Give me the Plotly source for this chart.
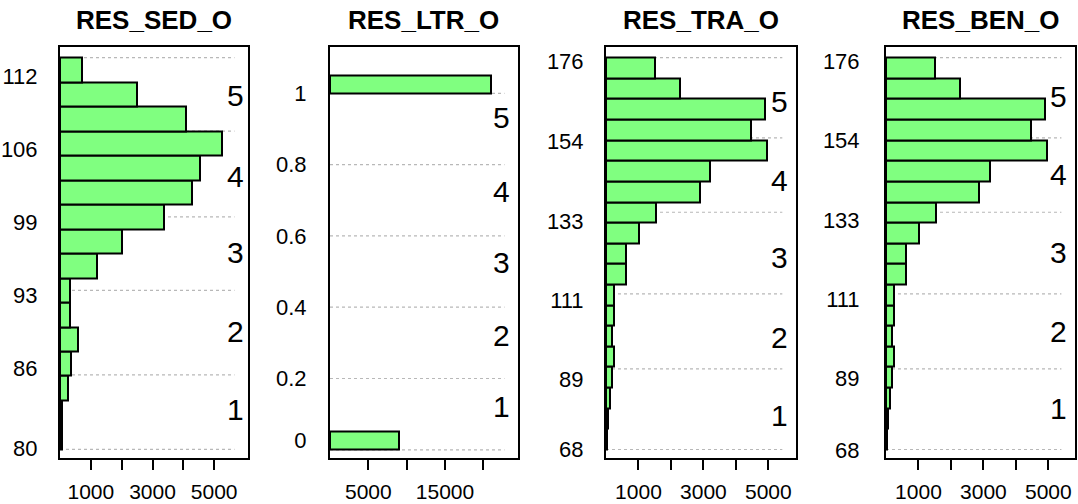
import plotly.graph_objects as go

# ---------------- data ----------------
titles = ["RES_SED_O", "RES_LTR_O", "RES_TRA_O", "RES_BEN_O"]

# histogram bin lower edges (bottom to top) and counts
sed_edges = [80, 82, 84, 86, 88, 90, 92, 94, 96, 98, 100, 102, 104, 106, 108, 110, 112]
sed_counts = [50, 60, 260, 370, 580, 310, 310, 1210, 2010, 3370, 4280, 4540, 5260, 4090, 2510, 700]

ltr_bins = [0.0, 1.0]
ltr_width = 0.05
ltr_counts = [8950, 21050]

tra_edges = [68.0, 73.68, 79.37, 85.05, 90.74, 96.42, 102.11, 107.79, 113.47, 119.16,
             124.84, 130.53, 136.21, 141.89, 147.58, 153.26, 158.95, 164.63, 170.32, 176.0]
tra_counts = [40, 60, 120, 170, 250, 170, 250, 250, 610, 610, 1020, 1530, 2880, 3190,
              4960, 4470, 4910, 2270, 1510]

ben_edges = tra_edges
ben_counts = [40, 60, 120, 170, 250, 170, 250, 250, 610, 610, 1020, 1530, 2880, 3190,
              4960, 4470, 4910, 2270, 1510]

# class breaks (dotted lines)
sed_breaks = [80, 86.1, 93.0, 99.0, 106.0, 112]
ltr_breaks = [0, 0.2, 0.4, 0.6, 0.8, 1.0]
tra_breaks = [68, 90.2, 110.9, 133.4, 153.9, 176]
ben_breaks = [68, 90.2, 110.9, 133.4, 153.9, 176]

# y tick labels
sed_ytext = ["80", "86", "93", "99", "106", "112"]
sed_yvals = [80.06, 86.66, 92.59, 98.58, 104.5, 110.51]
ltr_ytext = ["0", "0.2", "0.4", "0.6", "0.8", "1"]
ltr_yvals = [0.028, 0.2, 0.4, 0.6, 0.8, 1.0]
tra_ytext = ["68", "89", "111", "133", "154", "176"]
tra_yvals = [67.95, 87.3, 109.16, 131.0, 153.0, 175.07]
ben_ytext = ["68", "89", "111", "133", "154", "176"]
ben_yvals = [67.7, 87.5, 109.3, 131.2, 153.1, 175.0]

# class labels 1..5
class_text = ["1", "2", "3", "4", "5"]
sed_class_y = [83.29, 89.62, 96.09, 102.30, 108.87]
ltr_class_y = [0.122, 0.322, 0.526, 0.726, 0.931]
tra_class_y = [77.28, 98.9, 120.87, 142.24, 163.93]
ben_class_y = [79.33, 100.48, 122.18, 143.68, 165.30]

# x ticks
sed_xticks = [1000, 2000, 3000, 4000, 5000]
sed_xtext = ["1000", "", "3000", "", "5000"]
ltr_xticks = [5000, 10000, 15000, 20000]
ltr_xtext = ["5000", "", "15000", ""]
tra_xticks = sed_xticks
tra_xtext = sed_xtext

# ---------------- layout geometry ----------------
W, H = 1078, 504
boxes = [(60, 248), (330, 518), (606, 796), (886, 1075)]
TOP, BOT = 47, 463
xranges = [[0, 6097], [0, 24520], [0, 5852], [0, 5822]]
yranges = [[79.27, 112.91], [-0.0242, 1.1314], [65.54, 179.08], [65.54, 179.08]]
ystandoff = [16, 17, 16, 20]
class_xfrac = [0.931, 0.913, 0.913, 0.915]

def centers(edges):
    return [(edges[i] + edges[i + 1]) / 2 for i in range(len(edges) - 1)]

def widths(edges):
    return [edges[i + 1] - edges[i] for i in range(len(edges) - 1)]

panels = [
    dict(y=centers(sed_edges), w=widths(sed_edges), x=sed_counts, br=sed_breaks,
         yt=sed_ytext, yv=sed_yvals, cy=sed_class_y, xt=sed_xticks, xtt=sed_xtext),
    dict(y=[b + ltr_width / 2 for b in ltr_bins], w=[ltr_width] * len(ltr_bins), x=ltr_counts,
         br=ltr_breaks, yt=ltr_ytext, yv=ltr_yvals, cy=ltr_class_y, xt=ltr_xticks, xtt=ltr_xtext),
    dict(y=centers(tra_edges), w=widths(tra_edges), x=tra_counts, br=tra_breaks,
         yt=tra_ytext, yv=tra_yvals, cy=tra_class_y, xt=tra_xticks, xtt=tra_xtext),
    dict(y=centers(ben_edges), w=widths(ben_edges), x=ben_counts, br=ben_breaks,
         yt=ben_ytext, yv=ben_yvals, cy=ben_class_y, xt=tra_xticks, xtt=tra_xtext),
]

FONT = "Liberation Sans, Arial, Helvetica, sans-serif"
fig = go.Figure()
shapes, annotations = [], []
layout_axes = {}

for i, p in enumerate(panels):
    n = "" if i == 0 else str(i + 1)
    xa, ya = "x" + n, "y" + n
    fig.add_trace(go.Bar(
        x=p["x"], y=p["y"], width=p["w"], orientation="h",
        marker=dict(color="#80FF80", line=dict(color="black", width=2)),
        xaxis=xa, yaxis=ya, showlegend=False, hoverinfo="x+y",
    ))
    x0, x1 = boxes[i]
    layout_axes["xaxis" + n] = dict(
        domain=[x0 / W, x1 / W], range=xranges[i], anchor=ya,
        showgrid=False, zeroline=False, showline=True, mirror=True,
        linecolor="black", linewidth=2,
        ticks="outside", ticklen=10, tickwidth=2, tickcolor="black",
        tickvals=p["xt"], ticktext=p["xtt"],
        tickfont=dict(size=21, color="black", family=FONT),
        ticklabelstandoff=3,
    )
    layout_axes["yaxis" + n] = dict(
        domain=[1 - BOT / H, 1 - TOP / H], range=yranges[i], anchor=xa,
        showgrid=False, zeroline=False, showline=True, mirror=True,
        linecolor="black", linewidth=2, ticks="",
        tickvals=p["yv"], ticktext=p["yt"],
        tickfont=dict(size=22, color="black", family=FONT),
        ticklabelstandoff=ystandoff[i],
    )
    for b in p["br"]:
        shapes.append(dict(type="line", xref=xa + " domain", yref=ya,
                           x0=0, x1=0.928, y0=b, y1=b, layer="below",
                           line=dict(color="#B8B8B8", width=1.2, dash="dot")))
    for t, cy in zip(class_text, p["cy"]):
        annotations.append(dict(text=t, xref=xa + " domain", yref=ya,
                                x=class_xfrac[i], y=cy, showarrow=False,
                                xanchor="center", yanchor="middle",
                                font=dict(size=30, color="black", family=FONT)))
    annotations.append(dict(text="<b>" + titles[i] + "</b>", xref="paper", yref="paper",
                            x=(x0 + x1) / 2 / W, y=1 - 20.7 / H, showarrow=False,
                            xanchor="center", yanchor="middle",
                            font=dict(size=26, color="black", family=FONT)))

fig.update_layout(
    width=W, height=H, margin=dict(l=0, r=0, t=0, b=0),
    paper_bgcolor="white", plot_bgcolor="white",
    shapes=shapes, annotations=annotations, bargap=0,
    font=dict(family=FONT), **layout_axes,
)

fig.write_html("out.html", config={"displayModeBar": False},
               post_script="document.body.style.margin='0';document.body.style.overflow='hidden';")
